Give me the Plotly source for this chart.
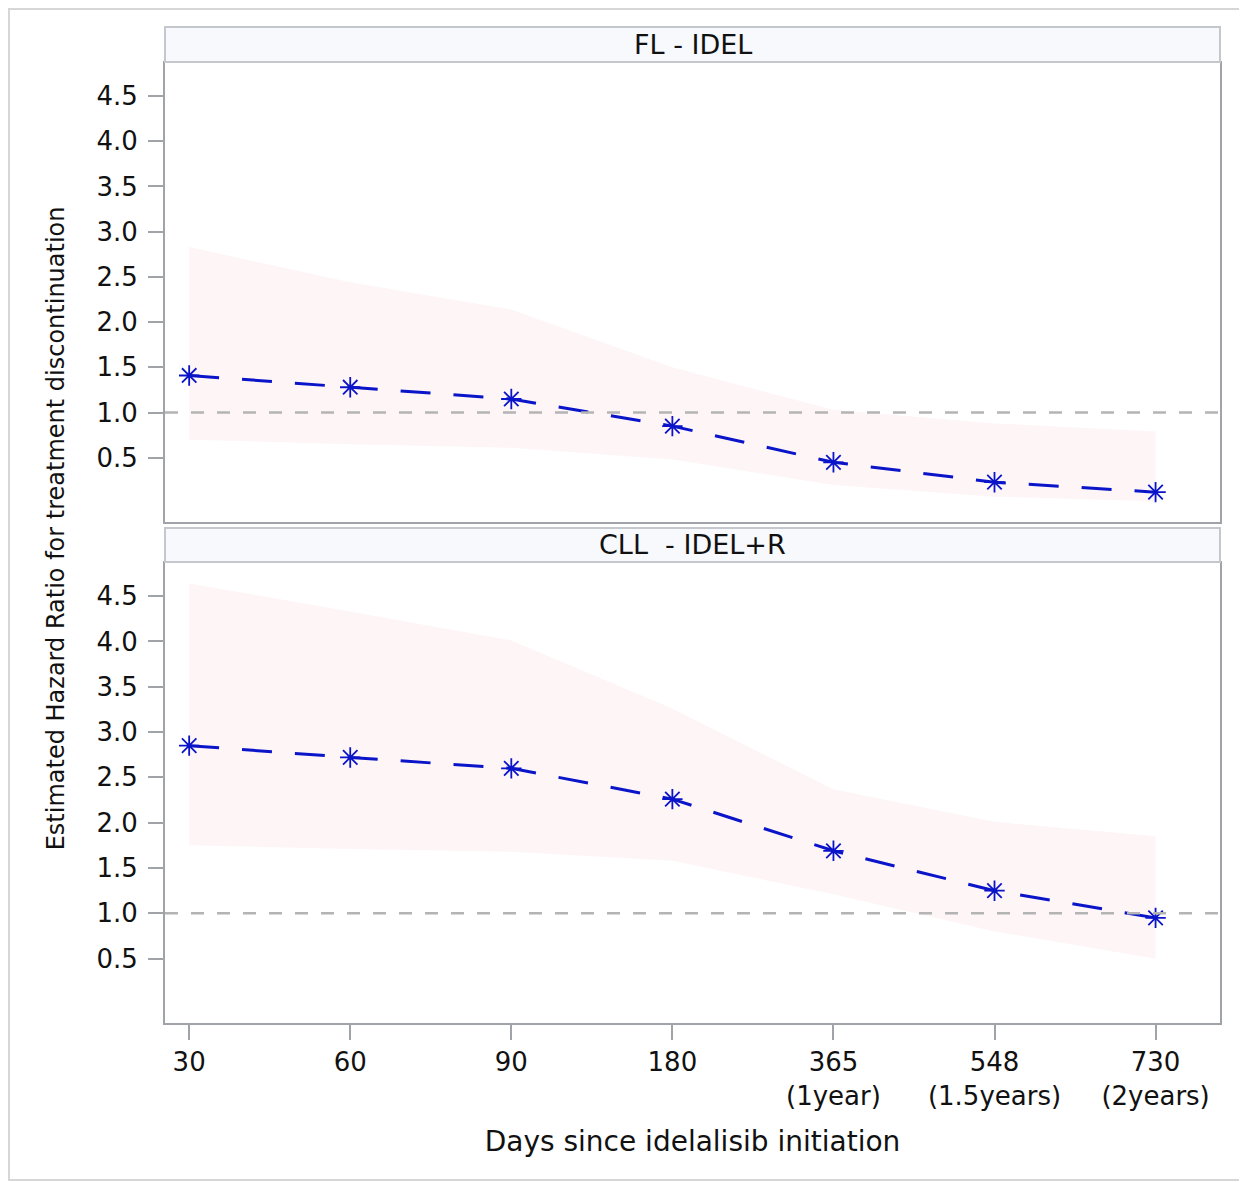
import plotly.graph_objects as go
from plotly.subplots import make_subplots

# x categories (days since initiation)
days = ["30", "60", "90", "180", "365<br>(1year)", "548<br>(1.5years)", "730<br>(2years)"]

# FL - IDEL
fl_hr = [1.41, 1.28, 1.15, 0.85, 0.45, 0.23, 0.12]
fl_upper = [2.83, 2.44, 2.14, 1.50, 1.03, 0.88, 0.79]
fl_lower = [0.70, 0.65, 0.61, 0.48, 0.20, 0.07, 0.02]

# CLL - IDEL+R
cll_hr = [2.85, 2.72, 2.60, 2.26, 1.69, 1.25, 0.95]
cll_upper = [4.64, 4.33, 4.01, 3.26, 2.37, 2.01, 1.85]
cll_lower = [1.75, 1.71, 1.68, 1.58, 1.21, 0.80, 0.50]

panels = ["FL - IDEL", "CLL  - IDEL+R"]
ytick_vals = [0.5, 1.0, 1.5, 2.0, 2.5, 3.0, 3.5, 4.0, 4.5]

FONT = "DejaVu Sans, Arial, sans-serif"
band_color = "#fef5f7"
line_color = "#0a14c8"
marker_color = "#3d5fc0"
frame_color = "#a0a4a8"

fig = make_subplots(rows=2, cols=1, shared_xaxes=True, vertical_spacing=0.04)

for row, (hr, up, lo) in enumerate([(fl_hr, fl_upper, fl_lower),
                                    (cll_hr, cll_upper, cll_lower)], start=1):
    # confidence band
    fig.add_trace(go.Scatter(x=days, y=lo, mode="lines", line=dict(width=0),
                             hoverinfo="skip", showlegend=False), row=row, col=1)
    fig.add_trace(go.Scatter(x=days, y=up, mode="lines", line=dict(width=0),
                             fill="tonexty", fillcolor=band_color,
                             hoverinfo="skip", showlegend=False), row=row, col=1)
    # reference line at HR = 1
    fig.add_hline(y=1.0, line=dict(color="#b4b4b4", width=2.5, dash="13px,13px"),
                  row=row, col=1)
    # estimates
    fig.add_trace(go.Scatter(x=days, y=hr, mode="lines+markers",
                             line=dict(color=line_color, width=3, dash="30px,23px"),
                             marker=dict(symbol="asterisk-open", size=17,
                                         line=dict(color=marker_color, width=1.8)),
                             showlegend=False), row=row, col=1)

axis_common = dict(showline=True, linecolor=frame_color, linewidth=2, mirror=True,
                   showgrid=False, zeroline=False, ticks="outside", ticklen=15,
                   tickcolor=frame_color, tickwidth=2,
                   tickfont=dict(family=FONT, size=26, color="#111"))

fig.update_xaxes(**axis_common, type="category", range=[-0.15, 6.40])
fig.update_xaxes(showticklabels=False, ticks="", row=1, col=1)
fig.update_xaxes(title=dict(text="Days since idelalisib initiation",
                            font=dict(family=FONT, size=28, color="#111"), standoff=21),
                 row=2, col=1)
fig.update_yaxes(**axis_common, range=[-0.21, 4.865], tickvals=ytick_vals,
                 tickformat=".1f", ticklabelstandoff=5)

# panel domains (pixel-matched)
fig.update_layout(
    yaxis=dict(domain=[0.503, 0.9639]),
    yaxis2=dict(domain=[0.0, 0.4618]),
)

# strip headers
headers = [(0.9649, 1.0), (0.4629, 0.497)]
for (y0, y1), label in zip(headers, panels):
    fig.add_shape(type="rect", xref="paper", yref="paper", x0=0, x1=1, y0=y0, y1=y1,
                  fillcolor="#f7f9fd", line=dict(color="#c4c8cc", width=2))
    fig.add_annotation(text=label, xref="paper", yref="paper", x=0.5, y=(y0 + y1) / 2,
                       yanchor="middle", xanchor="center", showarrow=False,
                       font=dict(family=FONT, size=27, color="#111"))

# shared y title
fig.add_annotation(text="Estimated Hazard Ratio for treatment discontinuation",
                   xref="paper", yref="paper", x=-0.103, y=0.497, textangle=-90,
                   xanchor="center", yanchor="middle",
                   showarrow=False, font=dict(family=FONT, size=24, color="#111"))

# outer frame
fig.add_shape(type="rect", xref="paper", yref="paper", x0=-0.1479, x1=1.0218,
              y0=-0.1576, y1=1.0181, line=dict(color="#d6d6d6", width=2))

# page body has an 8px margin, so the figure is sized/margined to compensate
fig.update_layout(
    width=1239, height=1174,
    margin=dict(l=157, r=27, t=19, b=159),
    plot_bgcolor="white", paper_bgcolor="white",
    showlegend=False,
)

fig.write_html("out.html")
